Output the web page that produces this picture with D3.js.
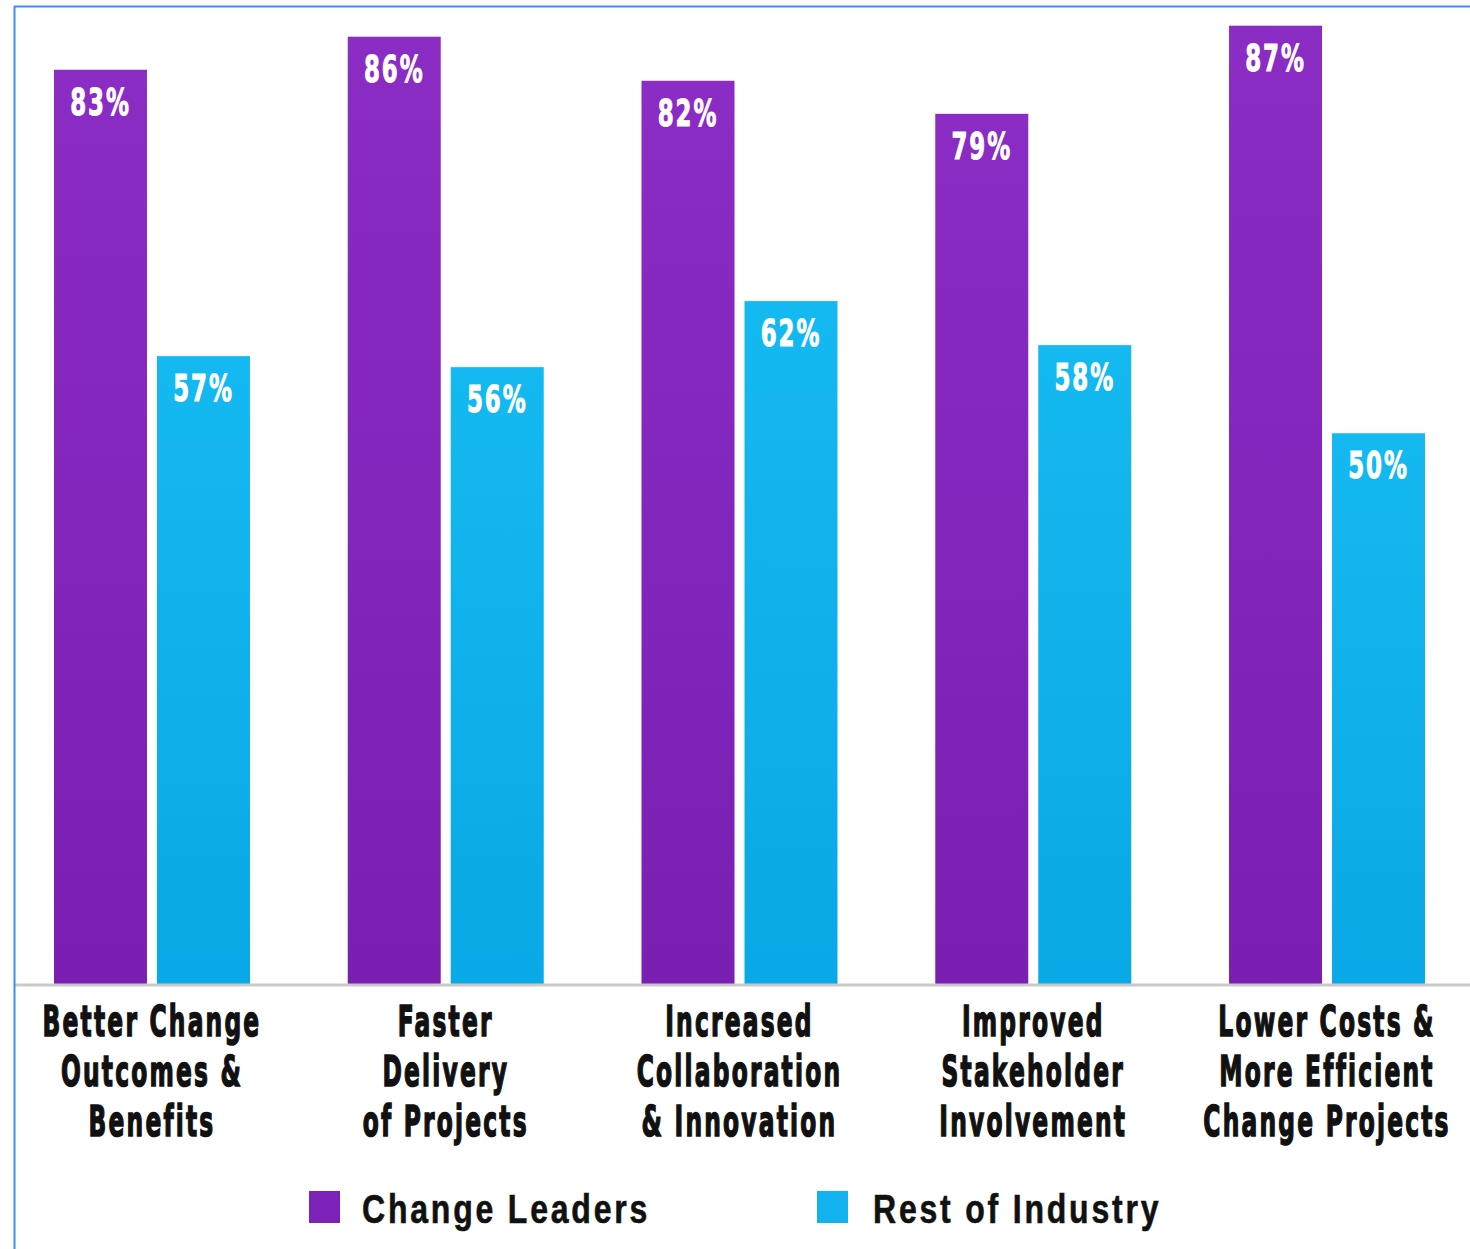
<!DOCTYPE html>
<html>
<head>
<meta charset="utf-8">
<script src="https://cdn.jsdelivr.net/npm/d3@7"></script>
<style>
  html, body { margin: 0; padding: 0; background: #fff; }
  svg { display: block; }
</style>
</head>
<body>
<div id="chart"></div>
<script>
// Benefit categories, each split into the lines printed under the axis
const categories = ["Better Change Outcomes & Benefits", "Faster Delivery of Projects",
  "Increased Collaboration & Innovation", "Improved Stakeholder Involvement",
  "Lower Costs & More Efficient Change Projects"];
const categoryLines = [
  ["Better Change", "Outcomes &", "Benefits"],
  ["Faster", "Delivery", "of Projects"],
  ["Increased", "Collaboration", "& Innovation"],
  ["Improved", "Stakeholder", "Involvement"],
  ["Lower Costs &", "More Efficient", "Change Projects"]
];
const seriesNames = ["Change Leaders", "Rest of Industry"];
const changeLeaders = [83, 86, 82, 79, 87];
const restOfIndustry = [57, 56, 62, 58, 50];

const W = 1470, H = 1249;
const baseY = 984;
const frameX = 14;

const svg = d3.select("#chart").append("svg")
  .attr("width", W).attr("height", H);

const defs = svg.append("defs");
function vGrad(id, top, bottom) {
  const g = defs.append("linearGradient").attr("id", id)
    .attr("x1", 0).attr("y1", 0).attr("x2", 0).attr("y2", 1);
  g.append("stop").attr("offset", "0%").attr("stop-color", top);
  g.append("stop").attr("offset", "100%").attr("stop-color", bottom);
}
vGrad("gradLeaders", "#8b2cc5", "#7a1fb2");
vGrad("gradRest", "#15b9f1", "#09a8e6");
const fills = ["url(#gradLeaders)", "url(#gradRest)"];
const swatch = ["#7d22b9", "#12b2ee"];

// Scales
const x0 = d3.scaleBand().domain(categories)
  .range([5.1, 1473.9]).paddingInner(0.3328).paddingOuter(0.1664);
const x1 = d3.scaleBand().domain(seriesNames)
  .range([0, x0.bandwidth()]).paddingInner(10 / 103).paddingOuter(0);
const y = d3.scaleLinear().domain([0, 100]).range([baseY, baseY - 1101.5]);

const rows = categories.map((c, i) => ({
  cat: c, lines: categoryLines[i],
  vals: [changeLeaders[i], restOfIndustry[i]]
}));

// Bars
const groups = svg.append("g").selectAll("g").data(rows).join("g")
  .attr("transform", d => `translate(${x0(d.cat)},0)`);

groups.selectAll("rect").data(d => d.vals.map((v, k) => ({ v, k })))
  .join("rect")
  .attr("x", d => x1(seriesNames[d.k]))
  .attr("y", d => y(d.v))
  .attr("width", x1.bandwidth())
  .attr("height", d => y(0) - y(d.v))
  .attr("fill", d => fills[d.k]);

// Condensed heavy lettering: bold face squeezed horizontally, thickened with a stroke
const valueSX = 0.62;
groups.selectAll("text.val").data(d => d.vals.map((v, k) => ({ v, k })))
  .join("text")
  .attr("class", "val")
  .attr("transform", d => `translate(${x1(seriesNames[d.k]) + x1.bandwidth() / 2},${y(d.v) + 45}) scale(${valueSX},1)`)
  .attr("text-anchor", "middle")
  .style("font-family", "'DejaVu Sans', sans-serif")
  .style("font-weight", "bold")
  .style("font-size", "37px")
  .style("letter-spacing", "3px")
  .attr("fill", "#fff")
  .attr("stroke", "#fff")
  .attr("stroke-width", 1)
  .text(d => d.v + "%");

// Axis along the base of the bars
const axis = svg.append("g")
  .attr("transform", `translate(0,${baseY + 1})`)
  .call(d3.axisBottom(x0).tickSize(0).tickPadding(0).tickSizeOuter(0));
axis.select(".domain")
  .attr("d", `M${frameX},0H${W}`)
  .attr("stroke", "#c9c9c9").attr("stroke-width", 3);

const labelSX = 0.55;
axis.selectAll(".tick text").each(function (c) {
  const lines = categoryLines[categories.indexOf(c)];
  const t = d3.select(this)
    .attr("y", null).attr("dy", null)
    .attr("transform", `scale(${labelSX},1)`)
    .attr("fill", "#111")
    .attr("stroke", "#111")
    .attr("stroke-width", 1.6)
    .style("font-family", "'DejaVu Sans', sans-serif")
    .style("font-weight", "bold")
    .style("font-size", "42.5px")
    .style("letter-spacing", "4px")
    .text(null);
  lines.forEach((ln, j) => {
    t.append("tspan").attr("x", 0).attr("y", 51 + j * 50).text(ln);
  });
});

// Legend
const legend = svg.append("g");
const legendX = [309, 817];
seriesNames.forEach((s, k) => {
  const g = legend.append("g").attr("transform", `translate(${legendX[k]},1191)`);
  g.append("rect").attr("width", 31).attr("height", 32).attr("fill", swatch[k]);
  g.append("text")
    .attr("transform", `translate(${k === 0 ? 53 : 56},32) scale(0.8,1)`)
    .style("font-family", "'Liberation Sans', Arial, sans-serif")
    .style("font-weight", "bold")
    .style("font-size", "40px")
    .style("letter-spacing", "3.5px")
    .attr("fill", "#111")
    .attr("stroke", "#111")
    .attr("stroke-width", 0.6)
    .text(s);
});

// Frame lines on the top and left edges
svg.append("line").attr("x1", frameX).attr("x2", W).attr("y1", 6.5).attr("y2", 6.5)
  .attr("stroke", "#3f8cff").attr("stroke-width", 2);
svg.append("line").attr("x1", frameX + 0.5).attr("x2", frameX + 0.5).attr("y1", 6).attr("y2", H)
  .attr("stroke", "#3f8cff").attr("stroke-width", 2);
</script>
</body>
</html>
